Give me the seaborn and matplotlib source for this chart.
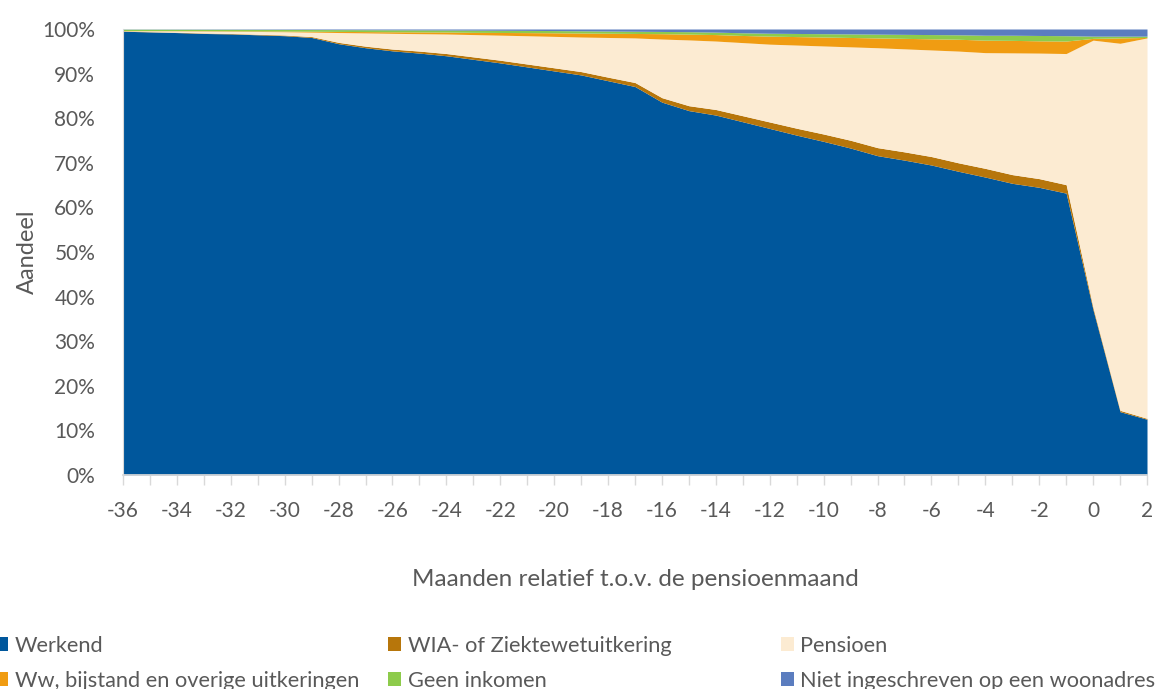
import numpy as np
import pandas as pd
import matplotlib
matplotlib.use("Agg")
import matplotlib.pyplot as plt
from matplotlib.patches import Patch
from matplotlib.ticker import MultipleLocator, FuncFormatter
import seaborn as sns

months = list(range(-36, 3))

werkend = [99.5, 99.35, 99.2, 99.0, 98.9, 98.7, 98.5, 98.1, 96.7, 95.8,
           95.1, 94.6, 94.0, 93.2, 92.4, 91.5, 90.6, 89.7, 88.4, 87.1,
           83.6, 81.7, 80.7, 79.2, 77.7, 76.2, 74.8, 73.3, 71.6, 70.6,
           69.5, 68.1, 66.8, 65.4, 64.5, 63.2, 37.0, 14.2, 12.5]
wia = [0.05, 0.05, 0.08, 0.1, 0.1, 0.12, 0.15, 0.2, 0.3, 0.35,
       0.4, 0.45, 0.5, 0.55, 0.6, 0.65, 0.7, 0.75, 0.8, 0.9,
       1.0, 1.1, 1.25, 1.35, 1.45, 1.55, 1.65, 1.75, 1.8, 1.85,
       1.9, 1.9, 1.95, 1.95, 1.95, 1.9, 0.5, 0.3, 0.2]
pensioen = [0.05, 0.2, 0.3, 0.45, 0.5, 0.63, 0.74, 1.0, 2.21, 2.97,
            3.53, 3.9, 4.38, 5.0, 5.62, 6.34, 7.05, 7.75, 8.9, 10.0,
            13.15, 14.75, 15.35, 16.4, 17.45, 18.65, 19.75, 20.95, 22.4, 23.1,
            23.9, 25.05, 25.95, 27.3, 28.15, 29.4, 60.0, 82.3, 85.3]
ww = [0.05, 0.05, 0.06, 0.08, 0.1, 0.12, 0.15, 0.2, 0.25, 0.3,
      0.35, 0.4, 0.45, 0.5, 0.6, 0.7, 0.8, 0.9, 0.95, 1.0,
      1.2, 1.3, 1.45, 1.6, 1.8, 1.9, 2.0, 2.1, 2.2, 2.35,
      2.5, 2.65, 2.8, 2.8, 2.75, 2.8, 0.4, 1.2, 0.1]
geen = [0.3, 0.3, 0.3, 0.3, 0.32, 0.34, 0.36, 0.38, 0.4, 0.42,
        0.44, 0.45, 0.45, 0.5, 0.5, 0.5, 0.5, 0.5, 0.5, 0.5,
        0.5, 0.55, 0.55, 0.6, 0.65, 0.7, 0.75, 0.8, 0.85, 0.9,
        0.95, 1.0, 1.1, 1.15, 1.2, 1.2, 0.5, 0.4, 0.3]
niet = [0.05, 0.05, 0.06, 0.07, 0.08, 0.09, 0.1, 0.12, 0.14, 0.16,
        0.18, 0.2, 0.22, 0.25, 0.28, 0.31, 0.35, 0.4, 0.45, 0.5,
        0.55, 0.6, 0.7, 0.85, 0.95, 1.0, 1.05, 1.1, 1.15, 1.2,
        1.25, 1.3, 1.4, 1.4, 1.45, 1.5, 1.6, 1.6, 1.6]

labels = ["Werkend", "WIA- of Ziektewetuitkering", "Pensioen",
          "Ww, bijstand en overige uitkeringen", "Geen inkomen",
          "Niet ingeschreven op een woonadres"]
colors = ["#00579C", "#B7760B", "#FCEBD2", "#F09C12", "#8DCB4B", "#5B7DBF"]

df = pd.DataFrame({"maand": months, labels[0]: werkend, labels[1]: wia,
                   labels[2]: pensioen, labels[3]: ww, labels[4]: geen,
                   labels[5]: niet})

sns.set_theme(style="white")
plt.rcParams["font.family"] = ["Lato", "DejaVu Sans"]
plt.rcParams["axes.unicode_minus"] = False
grey = "#595959"

fig = plt.figure(figsize=(11.61, 6.89), dpi=100)
ax = fig.add_axes([123 / 1161, 1 - 475 / 689, (1147 - 123) / 1161, (475 - 29) / 689])

ax.stackplot(df["maand"], [df[l] for l in labels], colors=colors, linewidth=0)

ax.set_xlim(-36, 2)
ax.set_ylim(0, 100)
ax.xaxis.set_major_locator(MultipleLocator(2))
ax.xaxis.set_minor_locator(MultipleLocator(1))
ax.yaxis.set_major_locator(MultipleLocator(10))
ax.yaxis.set_major_formatter(FuncFormatter(lambda v, p: f"{int(round(v))}%"))
ax.tick_params(axis="x", which="both", direction="out", length=7, width=1,
               color="#D9D9D9", labelsize=15, labelcolor=grey, pad=12, bottom=True)
ax.tick_params(axis="y", which="both", left=False, labelsize=15, labelcolor=grey, pad=14)

for s in ["top", "right"]:
    ax.spines[s].set_visible(False)
ax.spines["bottom"].set_color("#D9D9D9")
ax.spines["left"].set_color("#D9D9D9")
ax.spines["left"].set_linewidth(0.8)

ax.set_ylabel("Aandeel", fontsize=17, color=grey, labelpad=3)
ax.set_xlabel("Maanden relatief t.o.v. de pensioenmaand", fontsize=17.5, color=grey, labelpad=34)

order = [[0, 3], [1, 4], [2, 5]]
xs = [-0.004, 0.3345, 0.6725]
for col, xpos in zip(order, xs):
    handles = [Patch(facecolor=colors[i], edgecolor="none") for i in col]
    fig.legend(handles, [labels[i] for i in col], loc="upper left",
               bbox_to_anchor=(xpos, 0.077), frameon=False, fontsize=15.7,
               labelcolor=grey, handlelength=0.6, handleheight=0.6,
               handletextpad=0.3, labelspacing=0.68, borderpad=0, borderaxespad=0)

fig.savefig("out.png", dpi=100, facecolor="white")
